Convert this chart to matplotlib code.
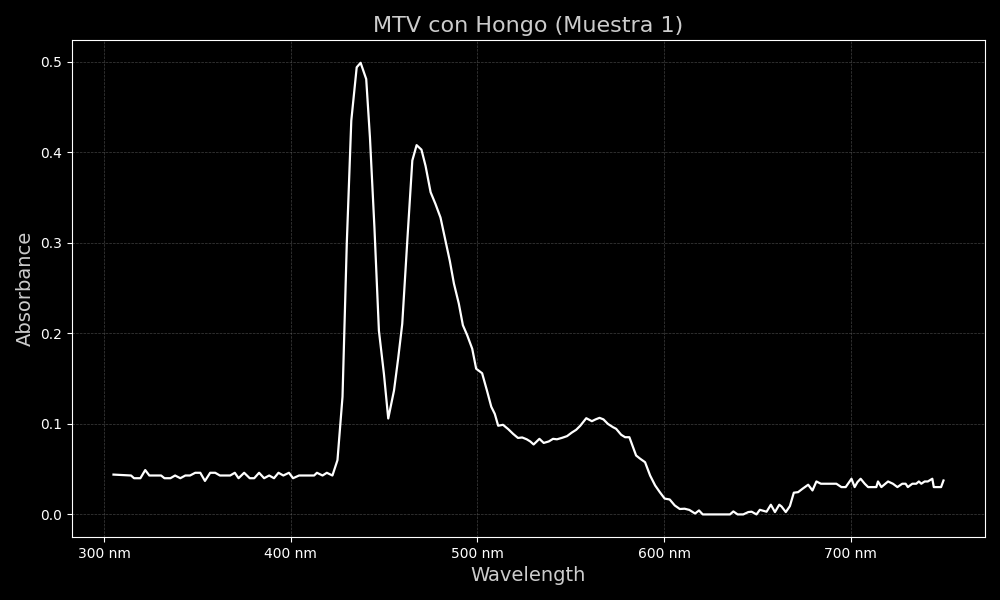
import matplotlib
matplotlib.use("Agg")
import matplotlib.pyplot as plt
from matplotlib.ticker import FuncFormatter

wavelength = [
    305.0, 314.4, 316.0, 319.4, 322.0, 324.2, 330.5, 332.3, 335.5, 338.0,
    340.8, 343.5, 346.0, 348.8, 351.5, 354.0, 356.8, 359.5, 362.0, 367.5,
    370.0, 372.0, 375.0, 378.0, 380.4, 383.0, 385.7, 388.4, 391.0, 393.4,
    396.0, 399.0, 401.2, 404.4, 412.5, 414.0, 417.0, 419.3, 422.3, 425.0,
    427.7, 430.0, 432.4, 435.3, 437.4, 440.4, 442.4, 444.8, 447.2, 449.9,
    452.2, 455.3, 457.5, 459.7, 462.4, 465.1, 467.4, 470.0, 472.2, 474.9,
    477.5, 480.2, 482.9, 485.2, 487.4, 490.0, 492.2, 494.5, 497.2, 499.3,
    502.5, 505.2, 507.4, 509.3, 511.1, 513.7, 516.6, 519.1, 521.7, 524.0,
    526.4, 528.3, 530.1, 533.2, 535.5, 538.2, 540.5, 542.6, 545.3, 548.0,
    550.6, 552.9, 555.1, 558.3, 561.3, 563.3, 565.4, 567.5, 569.9, 572.6,
    574.3, 577.0, 579.1, 581.4, 585.0, 587.2, 589.8, 592.5, 595.2, 597.7,
    600.3, 603.0, 605.7, 608.4, 611.0, 613.5, 616.6, 618.7, 620.7, 635.3,
    637.1, 639.4, 642.4, 645.1, 646.9, 649.5, 651.3, 654.9, 657.2, 659.4,
    661.7, 662.9, 665.2, 667.4, 669.5, 671.8, 674.2, 677.2, 679.5, 681.6,
    684.0, 692.3, 695.0, 697.3, 700.4, 702.1, 703.6, 705.3, 707.5, 709.3,
    713.7, 714.6, 716.4, 720.0, 722.6, 725.0, 727.6, 729.4, 730.6, 733.0,
    735.1, 736.5, 737.8, 739.6, 741.3, 743.7, 744.5, 748.4, 749.7,
]
absorbance = [
    0.044, 0.043, 0.040, 0.040, 0.049, 0.043, 0.043, 0.040, 0.040, 0.043,
    0.040, 0.043, 0.043, 0.046, 0.046, 0.037, 0.046, 0.046, 0.043, 0.043,
    0.046, 0.040, 0.046, 0.040, 0.040, 0.046, 0.040, 0.043, 0.040, 0.046,
    0.043, 0.046, 0.040, 0.043, 0.043, 0.046, 0.043, 0.046, 0.043, 0.060,
    0.130, 0.300, 0.435, 0.494, 0.499, 0.481, 0.4165, 0.317, 0.203, 0.155,
    0.106, 0.137, 0.172, 0.2105, 0.302, 0.391, 0.408, 0.403, 0.385, 0.356,
    0.343, 0.328, 0.302, 0.280, 0.255, 0.233, 0.209, 0.198, 0.183, 0.161,
    0.156, 0.136, 0.119, 0.111, 0.098, 0.099, 0.094, 0.089, 0.0845, 0.085,
    0.083, 0.0806, 0.0773, 0.0835, 0.079, 0.0806, 0.0835, 0.083, 0.0846, 0.0865,
    0.0905, 0.0935, 0.098, 0.1063, 0.103, 0.105, 0.1067, 0.105, 0.100, 0.0964,
    0.0946, 0.088, 0.0853, 0.0853, 0.0651, 0.0615, 0.0577, 0.043, 0.032, 0.0246,
    0.0175, 0.0165, 0.0099, 0.006, 0.0063, 0.005, 0.001, 0.0044, 0.0, 0.0,
    0.0033, 0.0, 0.0, 0.0026, 0.003, 0.0, 0.0051, 0.003, 0.0107, 0.0026,
    0.0107, 0.0088, 0.0026, 0.0092, 0.024, 0.0246, 0.0284, 0.0328, 0.0265, 0.0364,
    0.0339, 0.0339, 0.0302, 0.0302, 0.0394, 0.0302, 0.0357, 0.0394, 0.0339, 0.0302,
    0.0302, 0.0364, 0.0302, 0.0364, 0.0339, 0.0302, 0.0339, 0.0339, 0.0302, 0.0339,
    0.0339, 0.0364, 0.0339, 0.0364, 0.0364, 0.0394, 0.0302, 0.0302, 0.0375,
]

title = "MTV con Hongo (Muestra 1)"
xlabel = "Wavelength"
ylabel = "Absorbance"

fig, ax = plt.subplots(figsize=(10, 6), dpi=100)
fig.patch.set_facecolor("black")
ax.set_facecolor("black")

ax.plot(wavelength, absorbance, color="white", linewidth=1.6)

ax.set_title(title, color="#cccccc", fontsize=16)
ax.set_xlabel(xlabel, color="#cccccc", fontsize=14)
ax.set_ylabel(ylabel, color="#cccccc", fontsize=14)

ax.xaxis.set_major_formatter(FuncFormatter(lambda v, p: f"{int(v)} nm"))
ax.tick_params(colors="white", labelsize=10)
for s in ax.spines.values():
    s.set_color("white")
ax.grid(True, color="gray", linestyle="--", linewidth=0.5, alpha=0.5)

fig.subplots_adjust(left=0.072, right=0.985, top=0.933, bottom=0.105)
fig.savefig("out.png", facecolor=fig.get_facecolor())
